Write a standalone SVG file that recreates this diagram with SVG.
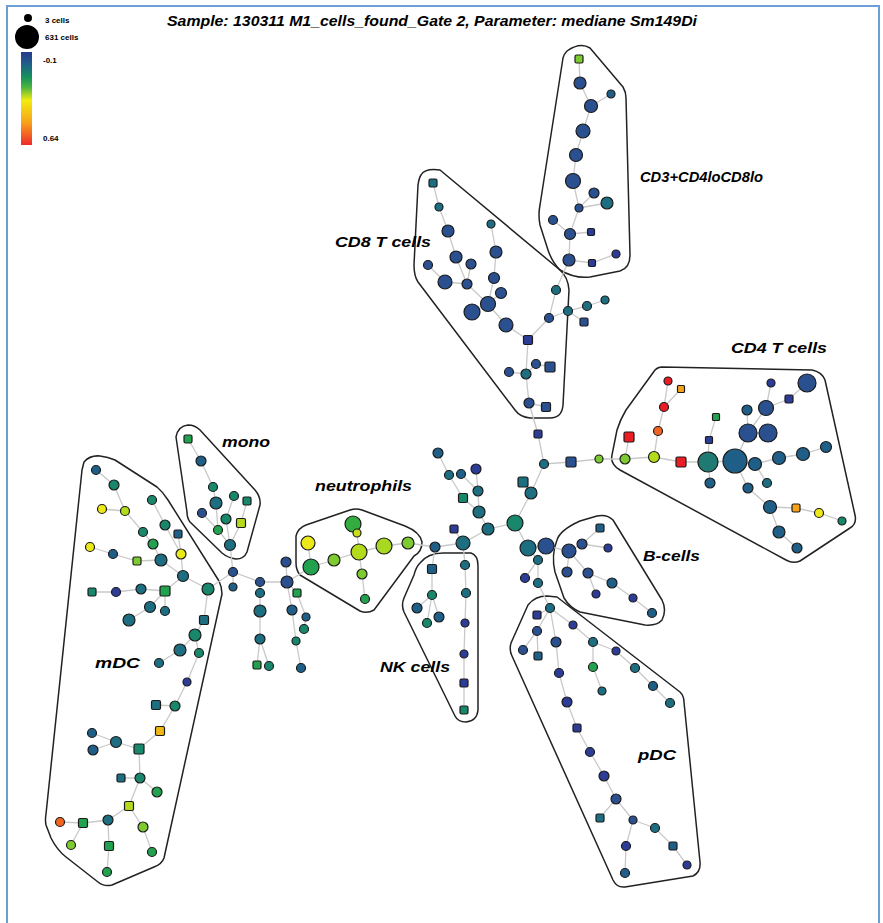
<svg xmlns="http://www.w3.org/2000/svg" width="883" height="923" viewBox="0 0 883 923">
<defs>
<linearGradient id="scale" x1="0" y1="0" x2="0" y2="1">
<stop offset="0" stop-color="#283a8c"/><stop offset="0.13" stop-color="#1f5e8a"/><stop offset="0.27" stop-color="#15915a"/><stop offset="0.38" stop-color="#4cb540"/><stop offset="0.52" stop-color="#f2ec0e"/><stop offset="0.76" stop-color="#f7a11a"/><stop offset="1" stop-color="#ee2a2a"/>
</linearGradient>
</defs>
<style>
.n{stroke:#1b1b1b;stroke-width:1.2}
.bl{fill:#2b5090}.nv{fill:#2d3c96}.tb{fill:#1f5e87}.tl{fill:#1d6e80}.tg{fill:#18876c}.gr{fill:#22a24e}
.lg{fill:#7dcb30}.yg{fill:#b3db1c}.ye{fill:#ece91a}.or{fill:#f6a31a}.ro{fill:#f06522}.rd{fill:#ea1c24}
.edge{fill:none;stroke:#c9c9c9;stroke-width:1.3}
.hull{fill:none;stroke:#222;stroke-width:1.5;stroke-linejoin:round}
.lab{font-family:"Liberation Sans",Arial,sans-serif;font-weight:bold;font-style:italic;font-size:15px;fill:#000}
.leg{font-family:"Liberation Sans",Arial,sans-serif;font-weight:bold;font-size:8px;fill:#000}
</style>
<rect width="883" height="923" fill="#fff"/>
<path d="M7,923 V6 H879 V923" fill="none" stroke="#6b9fd6" stroke-width="2"/>

<g id="legend">
<circle cx="28" cy="18" r="4" fill="#000"/>
<circle cx="27" cy="37" r="12" fill="#000"/>
<text class="leg" x="45" y="23">3 cells</text>
<text class="leg" x="45" y="40">631 cells</text>
<rect x="21" y="52" width="11" height="93" fill="url(#scale)"/>
<text class="leg" x="43" y="63">-0.1</text>
<text class="leg" x="43" y="141">0.64</text>
</g>
<text class="lab" x="167" y="26" font-size="13" textLength="530" lengthAdjust="spacingAndGlyphs">Sample: 130311 M1_cells_found_Gate 2, Parameter: mediane Sm149Di</text>

<g id="hulls">
<path class="hull" d="M567,51 Q580,42 590,48 L623,87 Q626,92 626,98 L630,255 Q630,268 620,271 L590,277 Q575,279 560,270 Q552,262 548,250 L540,225 Q538,215 540,205 L563,58 Q564,54 567,51 Z"/>
<path class="hull" d="M421,175 Q425,168 440,170 L560,270 Q568,277 569,290 L563,405 Q562,418 550,418 L530,418 Q520,417 515,410 L418,282 Q414,276 414,265 L418,185 Q419,178 421,175 Z"/>
<path class="hull" d="M662,367 L812,370 Q822,372 825,380 L855,515 Q857,524 850,528 L800,561 Q793,564 786,560 L620,470 Q610,464 612,455 L617,430 Q620,420 626,410 L655,370 Q658,367 662,367 Z"/>
<path class="hull" d="M557,540 Q560,530 580,521 L597,516 Q607,514 613,520 L662,600 Q667,610 662,620 Q657,626 645,625 L580,612 Q570,608 564,598 L555,572 Q551,555 557,540 Z"/>
<path class="hull" d="M528,605 Q535,596 547,596 L557,597 L680,692 Q684,696 684,702 L700,862 Q701,872 693,876 L625,887 Q617,888 613,880 L512,656 Q509,650 511,643 Z"/>
<path class="hull" d="M420,563 Q428,553 443,553 L471,553 Q478,555 478,566 L478,710 Q477,721 466,722 Q458,722 455,716 L404,612 Q401,605 404,598 L414,575 Q416,567 420,563 Z"/>
<path class="hull" d="M296,536 Q298,528 306,525 L350,510 Q356,508 362,510 L405,526 Q420,532 422,542 Q422,552 414,556 L374,610 Q367,614 360,611 L300,575 Q296,570 296,563 Z"/>
<path class="hull" d="M176,437 Q178,426 188,425 Q195,425 200,430 L255,490 Q261,497 260,505 L247,552 Q244,559 236,559 Q228,558 222,553 L190,522 Q187,518 187,512 Z"/>
<path class="hull" d="M84,462 Q90,455 100,456 Q108,457 115,460 L157,487 Q163,492 168,500 L219,581 Q222,587 222,594 L164,858 Q162,864 154,867 L112,885 Q104,887 98,882 L66,857 Q57,850 51,838 L46,825 Q45,820 46,814 L82,470 Z"/>
</g>

<g id="connectors">
<path class="edge" d="M579,59 L580,83 L591,106 L611,94 M591,106 L583,131 L576,155 L573,181 L579,208 L594,193 M579,208 L607,203 M579,208 L570,234 L553,220 M570,234 L591,232 M570,234 L569,260 L592,263 L616,254 M569,260 L556,290 L549,318 L528,340 M549,318 L568,311 L587,306 L605,300 M568,311 L584,322
M433,183 L439,207 L448,231 L456,257 L467,284 L488,304 L506,325 L528,340 M471,264 L467,284 M428,265 L445,282 L467,284 M491,224 L496,252 L494,278 L488,304 M501,293 L488,304 M472,312 L488,304
M528,340 L526,374 L529,403 L538,434 L544,464 L571,462 L599,459 L625,459 M526,374 L509,372 M526,374 L536,364 L550,367 M529,403 L546,407
M625,459 L654,457 L681,462 L708,462 L735,461 L755,464 L779,458 L803,454 L826,447 M625,459 L629,437 M654,457 L658,431 L664,407 L668,381 M664,407 L681,389 M708,462 L709,440 L716,417 M708,462 L710,483 M735,461 L748,433 L747,410 M748,433 L766,408 L771,383 M766,408 L789,399 L807,383 M748,433 L768,433 M735,461 L748,488 L770,507 L779,532 L797,548 M770,507 L796,508 L819,513 L842,521 M755,464 L767,483
M544,464 L531,493 L515,523 L488,529 L463,543 L435,547 L408,543 M531,493 L523,482 M463,543 L454,529 M488,529 L479,512 L478,491 L476,469 M478,491 L461,474 M479,512 L463,498 L449,475 L438,453 M515,523 L528,548 L546,546 L569,551 M528,548 L538,560 L538,583 L550,608 M538,560 L525,578
M569,551 L582,544 L600,528 M582,544 L608,548 M569,551 L567,572 M569,551 L588,573 L612,583 L633,598 L652,613 M588,573 L596,594
M435,547 L432,569 L432,595 L417,608 M432,595 L439,617 M432,595 L427,623 M463,543 L465,565 L466,593 L465,623 L464,654 L464,683 L464,710
M550,608 L537,615 M550,608 L537,631 L523,650 M537,631 L538,656 M550,608 L556,642 L559,673 L567,702 L577,728 L590,752 L604,776 L616,799 L600,818 M616,799 L633,820 L626,846 L625,873 M633,820 L655,828 L673,846 L687,865 M550,608 L573,625 L593,642 L616,651 L635,668 L653,686 L670,703 M593,642 L593,667 L602,691
M408,543 L384,546 L359,552 L334,560 L311,567 L308,543 M359,552 L357,533 L353,524 M359,552 L362,574 L365,599 M311,567 L287,582 L260,582 L233,572 M287,582 L286,562
M260,582 L260,593 L260,611 L260,639 L257,665 M260,639 L269,666 M287,582 L297,593 L306,617 L304,629 M287,582 L292,610 L296,641 L301,668 M233,572 L233,587
M233,572 L230,545 L218,530 L216,503 L213,487 L201,461 L188,439 M218,530 L202,513 M230,545 L226,519 L234,496 M230,545 L241,523 L247,501
M233,572 L208,589 L183,576 L161,560 L153,544 L143,532 L125,511 L114,485 L96,470 M125,511 L102,509 M183,576 L181,554 L165,525 L152,500 M181,554 L178,534 M161,560 L137,561 L113,554 L90,547 M183,576 L165,591 L141,589 L116,592 L92,592 M165,591 L165,611 M165,591 L150,607 L129,620 M208,589 L204,620 L195,635 L180,650 L159,663 M195,635 L199,653 L187,682 L175,706 L156,705 M175,706 L160,731 L139,749 L116,742 L92,733 M116,742 L93,750 M139,749 L140,778 L121,778 M140,778 L157,792 M140,778 L129,806 L108,820 L83,823 L60,822 M83,823 L71,845 M108,820 L109,846 L107,872 M129,806 L143,827 L152,852"/>
</g>

<g id="nodes">
<g id="a1"><rect class="n lg" x="575" y="55" width="8" height="8" rx="1.5"/></g>
<g id="a2"><circle class="n bl" cx="580" cy="83" r="6"/></g>
<g id="a3"><circle class="n tb" cx="611" cy="94" r="4"/></g>
<g id="a4"><circle class="n bl" cx="591" cy="106" r="6.5"/></g>
<g id="a5"><circle class="n bl" cx="583" cy="131" r="7"/></g>
<g id="a6"><circle class="n bl" cx="576" cy="155" r="6.5"/></g>
<g id="a7"><circle class="n bl" cx="573" cy="181" r="7.5"/></g>
<g id="a8"><circle class="n bl" cx="594" cy="193" r="5"/></g>
<g id="a9"><circle class="n tl" cx="607" cy="203" r="6"/></g>
<g id="a10"><circle class="n bl" cx="579" cy="208" r="4"/></g>
<g id="a11"><circle class="n bl" cx="553" cy="220" r="4.5"/></g>
<g id="a12"><circle class="n bl" cx="570" cy="234" r="5.5"/></g>
<g id="a13"><rect class="n nv" x="587.5" y="228.5" width="7" height="7" rx="1.5"/></g>
<g id="a14"><circle class="n bl" cx="569" cy="260" r="6"/></g>
<g id="a15"><rect class="n nv" x="588.5" y="259.5" width="7" height="7" rx="1.5"/></g>
<g id="a16"><circle class="n nv" cx="616" cy="254" r="4"/></g>
<g id="j1"><circle class="n tl" cx="556" cy="290" r="4.5"/></g>
<g id="j2"><circle class="n bl" cx="549" cy="318" r="4.5"/></g>
<g id="j3"><circle class="n tl" cx="568" cy="311" r="4.5"/></g>
<g id="j4"><circle class="n tl" cx="587" cy="306" r="4.5"/></g>
<g id="j5"><circle class="n tl" cx="605" cy="300" r="4"/></g>
<g id="j6"><rect class="n bl" x="580" y="318" width="8" height="8" rx="1.5"/></g>
<g id="j7"><rect class="n nv" x="523.5" y="335.5" width="9" height="9" rx="1.5"/></g>
<g id="b1"><rect class="n tl" x="429" y="179" width="8" height="8" rx="1.5"/></g>
<g id="b2"><circle class="n tl" cx="439" cy="207" r="4"/></g>
<g id="b3"><circle class="n bl" cx="448" cy="231" r="6"/></g>
<g id="b4"><circle class="n tl" cx="491" cy="224" r="4"/></g>
<g id="b5"><circle class="n bl" cx="496" cy="252" r="6"/></g>
<g id="b6"><circle class="n bl" cx="456" cy="257" r="6"/></g>
<g id="b7"><circle class="n bl" cx="471" cy="264" r="5"/></g>
<g id="b8"><circle class="n bl" cx="428" cy="265" r="4.5"/></g>
<g id="b9"><circle class="n bl" cx="445" cy="282" r="7"/></g>
<g id="b10"><circle class="n bl" cx="467" cy="284" r="5"/></g>
<g id="b11"><circle class="n bl" cx="494" cy="278" r="5.5"/></g>
<g id="b12"><circle class="n bl" cx="501" cy="293" r="5.5"/></g>
<g id="b13"><circle class="n bl" cx="488" cy="304" r="7.5"/></g>
<g id="b14"><circle class="n bl" cx="472" cy="312" r="8"/></g>
<g id="b15"><circle class="n bl" cx="506" cy="325" r="7"/></g>
<g id="s1"><circle class="n tl" cx="526" cy="374" r="5"/></g>
<g id="s2"><circle class="n bl" cx="509" cy="372" r="4.5"/></g>
<g id="s3"><circle class="n bl" cx="536" cy="364" r="4.5"/></g>
<g id="s4"><rect class="n bl" x="545" y="362" width="10" height="10" rx="1.5"/></g>
<g id="s5"><circle class="n bl" cx="529" cy="403" r="5"/></g>
<g id="s6"><rect class="n bl" x="541.5" y="402.5" width="9" height="9" rx="1.5"/></g>
<g id="s7"><rect class="n nv" x="534" y="430" width="8" height="8" rx="1.5"/></g>
<g id="s8"><circle class="n tl" cx="544" cy="464" r="4.5"/></g>
<g id="s9"><rect class="n bl" x="566" y="457" width="10" height="10" rx="1.5"/></g>
<g id="s10"><circle class="n lg" cx="599" cy="459" r="4"/></g>
<g id="c1"><circle class="n rd" cx="668" cy="381" r="4"/></g>
<g id="c2"><rect class="n or" x="677.5" y="385.5" width="7" height="7" rx="1"/></g>
<g id="c3"><circle class="n rd" cx="664" cy="407" r="4.5"/></g>
<g id="c4"><rect class="n rd" x="624" y="432" width="10" height="10" rx="1.5"/></g>
<g id="c5"><circle class="n ro" cx="658" cy="431" r="4.5"/></g>
<g id="c6"><circle class="n lg" cx="625" cy="459" r="5"/></g>
<g id="c7"><circle class="n yg" cx="654" cy="457" r="5.5"/></g>
<g id="c8"><rect class="n rd" x="676" y="457" width="10" height="10" rx="1.5"/></g>
<g id="c9"><circle class="n" fill="#1e7a72" cx="708" cy="462" r="10"/></g>
<g id="c10"><circle class="n tb" cx="735" cy="461" r="12"/></g>
<g id="c11"><circle class="n tb" cx="710" cy="483" r="5"/></g>
<g id="c12"><rect class="n nv" x="705.5" y="436.5" width="7" height="7" rx="1"/></g>
<g id="c13"><rect class="n gr" x="712.5" y="413.5" width="7" height="7" rx="1"/></g>
<g id="c14"><circle class="n tb" cx="755" cy="464" r="6.5"/></g>
<g id="c15"><circle class="n tb" cx="779" cy="458" r="6.5"/></g>
<g id="c16"><circle class="n tb" cx="803" cy="454" r="6.5"/></g>
<g id="c17"><circle class="n tb" cx="826" cy="447" r="5.5"/></g>
<g id="c18"><circle class="n bl" cx="748" cy="433" r="9"/></g>
<g id="c19"><circle class="n bl" cx="768" cy="433" r="9"/></g>
<g id="c20"><circle class="n tb" cx="747" cy="410" r="5"/></g>
<g id="c21"><circle class="n bl" cx="766" cy="408" r="7.5"/></g>
<g id="c22"><circle class="n nv" cx="771" cy="383" r="4"/></g>
<g id="c23"><rect class="n nv" x="785" y="395" width="8" height="8" rx="1.5"/></g>
<g id="c24"><circle class="n bl" cx="807" cy="383" r="9"/></g>
<g id="c25"><circle class="n tb" cx="748" cy="488" r="5"/></g>
<g id="c26"><circle class="n tl" cx="767" cy="483" r="4.5"/></g>
<g id="c27"><circle class="n tb" cx="770" cy="507" r="6.5"/></g>
<g id="c28"><rect class="n or" x="792" y="504" width="8" height="8" rx="1.5"/></g>
<g id="c29"><circle class="n ye" cx="819" cy="513" r="4.5"/></g>
<g id="c30"><circle class="n tg" cx="842" cy="521" r="4"/></g>
<g id="c31"><circle class="n tb" cx="779" cy="532" r="6"/></g>
<g id="c32"><circle class="n tb" cx="797" cy="548" r="5"/></g>
<g id="d1"><circle class="n bl" cx="546" cy="546" r="8"/></g>
<g id="d2"><circle class="n bl" cx="569" cy="551" r="7"/></g>
<g id="d3"><circle class="n bl" cx="582" cy="544" r="5"/></g>
<g id="d4"><rect class="n tb" x="596" y="524" width="8" height="8" rx="1.5"/></g>
<g id="d5"><circle class="n nv" cx="608" cy="548" r="4"/></g>
<g id="d6"><circle class="n bl" cx="567" cy="572" r="5"/></g>
<g id="d7"><circle class="n bl" cx="588" cy="573" r="5"/></g>
<g id="d8"><circle class="n tb" cx="612" cy="583" r="5"/></g>
<g id="d9"><circle class="n nv" cx="596" cy="594" r="4"/></g>
<g id="d10"><circle class="n nv" cx="633" cy="598" r="4"/></g>
<g id="d11"><circle class="n tb" cx="652" cy="613" r="4.5"/></g>
<g id="e1"><circle class="n tl" cx="531" cy="493" r="6"/></g>
<g id="e2"><rect class="n tl" x="518" y="477" width="10" height="10" rx="2"/></g>
<g id="e3"><circle class="n tg" cx="515" cy="523" r="8"/></g>
<g id="e4"><circle class="n tl" cx="488" cy="529" r="6"/></g>
<g id="e5"><circle class="n tl" cx="463" cy="543" r="7"/></g>
<g id="e6"><rect class="n nv" x="450" y="525" width="8" height="8" rx="1.5"/></g>
<g id="e7"><circle class="n tb" cx="435" cy="547" r="5"/></g>
<g id="e8"><circle class="n tl" cx="528" cy="548" r="8"/></g>
<g id="e9"><circle class="n tl" cx="538" cy="560" r="4.5"/></g>
<g id="e10"><circle class="n nv" cx="525" cy="578" r="4.5"/></g>
<g id="e11"><circle class="n tl" cx="538" cy="583" r="4.5"/></g>
<g id="e12"><circle class="n tl" cx="479" cy="512" r="6"/></g>
<g id="e13"><circle class="n tl" cx="478" cy="491" r="5"/></g>
<g id="e14"><rect class="n tg" x="458.5" y="493.5" width="9" height="9" rx="1.5"/></g>
<g id="e15"><circle class="n nv" cx="476" cy="469" r="5"/></g>
<g id="e16"><circle class="n tb" cx="461" cy="474" r="4.5"/></g>
<g id="e17"><circle class="n tl" cx="449" cy="475" r="4.5"/></g>
<g id="e18"><circle class="n tb" cx="438" cy="453" r="5"/></g>
<g id="k1"><rect class="n tb" x="427.5" y="564.5" width="9" height="9" rx="1.5"/></g>
<g id="k2"><circle class="n tg" cx="432" cy="595" r="4.5"/></g>
<g id="k3"><circle class="n tb" cx="417" cy="608" r="5"/></g>
<g id="k4"><circle class="n tb" cx="439" cy="617" r="5"/></g>
<g id="k5"><circle class="n tg" cx="427" cy="623" r="4.5"/></g>
<g id="k6"><circle class="n tl" cx="465" cy="565" r="4.5"/></g>
<g id="k7"><circle class="n tl" cx="466" cy="593" r="4.5"/></g>
<g id="k8"><circle class="n nv" cx="465" cy="623" r="4"/></g>
<g id="k9"><circle class="n nv" cx="464" cy="654" r="4"/></g>
<g id="k10"><rect class="n nv" x="460" y="679" width="8" height="8" rx="1.5"/></g>
<g id="k11"><rect class="n tg" x="460" y="706" width="8" height="8" rx="1.5"/></g>
<g id="p1"><circle class="n tl" cx="550" cy="608" r="4.5"/></g>
<g id="p2"><rect class="n nv" x="533" y="611" width="8" height="8" rx="1.5"/></g>
<g id="p3"><circle class="n bl" cx="537" cy="631" r="4.5"/></g>
<g id="p4"><circle class="n bl" cx="523" cy="650" r="4.5"/></g>
<g id="p5"><rect class="n tb" x="534" y="652" width="8" height="8" rx="1.5"/></g>
<g id="p6"><circle class="n bl" cx="556" cy="642" r="5"/></g>
<g id="p7"><circle class="n nv" cx="559" cy="673" r="4.5"/></g>
<g id="p8"><circle class="n nv" cx="567" cy="702" r="5"/></g>
<g id="p9"><rect class="n nv" x="573" y="724" width="8" height="8" rx="1.5"/></g>
<g id="p10"><circle class="n nv" cx="590" cy="752" r="4.5"/></g>
<g id="p11"><circle class="n nv" cx="604" cy="776" r="5"/></g>
<g id="p12"><circle class="n bl" cx="616" cy="799" r="5"/></g>
<g id="p13"><rect class="n tl" x="596" y="814" width="8" height="8" rx="1.5"/></g>
<g id="p14"><circle class="n bl" cx="633" cy="820" r="4"/></g>
<g id="p15"><circle class="n tl" cx="655" cy="828" r="4.5"/></g>
<g id="p16"><rect class="n tb" x="669" y="842" width="8" height="8" rx="1.5"/></g>
<g id="p17"><circle class="n nv" cx="687" cy="865" r="4"/></g>
<g id="p18"><circle class="n nv" cx="626" cy="846" r="4.5"/></g>
<g id="p19"><circle class="n tb" cx="625" cy="873" r="4.5"/></g>
<g id="p20"><circle class="n nv" cx="573" cy="625" r="4"/></g>
<g id="p21"><circle class="n tl" cx="593" cy="642" r="4.5"/></g>
<g id="p22"><circle class="n nv" cx="616" cy="651" r="4"/></g>
<g id="p23"><circle class="n tl" cx="635" cy="668" r="4.5"/></g>
<g id="p24"><circle class="n tb" cx="653" cy="686" r="4.5"/></g>
<g id="p25"><circle class="n tl" cx="670" cy="703" r="4.5"/></g>
<g id="p26"><circle class="n gr" cx="593" cy="667" r="4.5"/></g>
<g id="p27"><circle class="n tl" cx="602" cy="691" r="4"/></g>
<g id="n1"><circle class="n" fill="#34ad40" cx="353" cy="524" r="8"/></g>
<g id="n2"><circle class="n" fill="#c8de1a" cx="357" cy="533" r="4"/></g>
<g id="n3"><circle class="n ye" cx="308" cy="543" r="7"/></g>
<g id="n4"><circle class="n gr" cx="311" cy="567" r="8"/></g>
<g id="n5"><circle class="n lg" cx="334" cy="560" r="6"/></g>
<g id="n6"><circle class="n yg" cx="359" cy="552" r="8"/></g>
<g id="n7"><circle class="n" fill="#a8d820" cx="384" cy="546" r="8"/></g>
<g id="n8"><circle class="n lg" cx="408" cy="543" r="6"/></g>
<g id="n9"><circle class="n lg" cx="362" cy="574" r="5"/></g>
<g id="n10"><circle class="n gr" cx="365" cy="599" r="4.5"/></g>
<g id="l1"><circle class="n bl" cx="286" cy="562" r="5"/></g>
<g id="l2"><circle class="n bl" cx="287" cy="582" r="6"/></g>
<g id="l3"><circle class="n bl" cx="260" cy="582" r="4.5"/></g>
<g id="l4"><circle class="n bl" cx="233" cy="572" r="4.5"/></g>
<g id="l5"><circle class="n tb" cx="233" cy="587" r="4"/></g>
<g id="l6"><circle class="n tl" cx="260" cy="593" r="4.5"/></g>
<g id="l7"><circle class="n tl" cx="260" cy="611" r="6"/></g>
<g id="l8"><circle class="n tl" cx="260" cy="639" r="5"/></g>
<g id="l9"><rect class="n gr" x="253" y="661" width="8" height="8" rx="1.5"/></g>
<g id="l10"><circle class="n tg" cx="269" cy="666" r="4.5"/></g>
<g id="l11"><rect class="n gr" x="293" y="589" width="8" height="8" rx="1.5"/></g>
<g id="l12"><circle class="n tb" cx="292" cy="610" r="5"/></g>
<g id="l13"><circle class="n tb" cx="306" cy="617" r="4"/></g>
<g id="l14"><circle class="n tg" cx="304" cy="629" r="4.5"/></g>
<g id="l15"><circle class="n tg" cx="296" cy="641" r="4"/></g>
<g id="l16"><circle class="n tb" cx="301" cy="668" r="4.5"/></g>
<g id="o1"><rect class="n gr" x="184" y="435" width="8" height="8" rx="1.5"/></g>
<g id="o2"><circle class="n tb" cx="201" cy="461" r="5"/></g>
<g id="o3"><circle class="n tg" cx="213" cy="487" r="4.5"/></g>
<g id="o4"><circle class="n tl" cx="216" cy="503" r="6"/></g>
<g id="o5"><circle class="n bl" cx="202" cy="513" r="4.5"/></g>
<g id="o6"><circle class="n tg" cx="234" cy="496" r="4.5"/></g>
<g id="o7"><rect class="n tg" x="243" y="497" width="8" height="8" rx="1.5"/></g>
<g id="o8"><circle class="n tg" cx="226" cy="519" r="5"/></g>
<g id="o9"><circle class="n gr" cx="218" cy="530" r="4.5"/></g>
<g id="o10"><rect class="n yg" x="236.5" y="518.5" width="9" height="9" rx="1.5"/></g>
<g id="o11"><circle class="n tl" cx="230" cy="545" r="5.5"/></g>
<g id="q1"><circle class="n tb" cx="96" cy="470" r="4.5"/></g>
<g id="q2"><circle class="n tg" cx="114" cy="485" r="5"/></g>
<g id="q3"><circle class="n ye" cx="102" cy="509" r="4.5"/></g>
<g id="q4"><circle class="n yg" cx="125" cy="511" r="4.5"/></g>
<g id="q5"><circle class="n tg" cx="152" cy="500" r="4.5"/></g>
<g id="q6"><circle class="n tg" cx="143" cy="532" r="4.5"/></g>
<g id="q7"><circle class="n tg" cx="165" cy="525" r="5"/></g>
<g id="q8"><circle class="n gr" cx="153" cy="544" r="5"/></g>
<g id="q9"><rect class="n tb" x="174" y="530" width="8" height="8" rx="1.5"/></g>
<g id="q10"><circle class="n ye" cx="90" cy="547" r="4.5"/></g>
<g id="q11"><circle class="n tb" cx="113" cy="554" r="4.5"/></g>
<g id="q12"><rect class="n lg" x="133" y="557" width="8" height="8" rx="1.5"/></g>
<g id="q13"><circle class="n tl" cx="161" cy="560" r="6"/></g>
<g id="q14"><circle class="n ye" cx="181" cy="554" r="5"/></g>
<g id="q15"><circle class="n tl" cx="183" cy="576" r="5.5"/></g>
<g id="q16"><circle class="n tg" cx="208" cy="589" r="6"/></g>
<g id="q17"><rect class="n tg" x="88" y="588" width="8" height="8" rx="1.5"/></g>
<g id="q18"><circle class="n nv" cx="116" cy="592" r="4.5"/></g>
<g id="q19"><circle class="n tl" cx="141" cy="589" r="5"/></g>
<g id="q20"><rect class="n gr" x="160" y="586" width="10" height="10" rx="1.5"/></g>
<g id="q21"><circle class="n tl" cx="150" cy="607" r="5.5"/></g>
<g id="q22"><circle class="n tl" cx="165" cy="611" r="4.5"/></g>
<g id="q23"><circle class="n tl" cx="129" cy="620" r="6"/></g>
<g id="q24"><rect class="n tl" x="199.5" y="615.5" width="9" height="9" rx="1.5"/></g>
<g id="q25"><circle class="n tg" cx="195" cy="635" r="6"/></g>
<g id="q26"><circle class="n tl" cx="180" cy="650" r="6"/></g>
<g id="q27"><circle class="n tg" cx="199" cy="653" r="4.5"/></g>
<g id="q28"><circle class="n tl" cx="159" cy="663" r="4.5"/></g>
<g id="q29"><circle class="n nv" cx="187" cy="682" r="4"/></g>
<g id="q30"><rect class="n tl" x="151.5" y="700.5" width="9" height="9" rx="1.5"/></g>
<g id="q31"><circle class="n tg" cx="175" cy="706" r="5"/></g>
<g id="q32"><rect class="n" fill="#f0b812" x="155.5" y="726.5" width="9" height="9" rx="1.5"/></g>
<g id="q33"><circle class="n tb" cx="92" cy="733" r="4.5"/></g>
<g id="q34"><circle class="n tl" cx="116" cy="742" r="5.5"/></g>
<g id="q35"><circle class="n tb" cx="93" cy="750" r="5"/></g>
<g id="q36"><rect class="n tg" x="134" y="744" width="10" height="10" rx="1.5"/></g>
<g id="q37"><rect class="n tl" x="117" y="774" width="8" height="8" rx="1.5"/></g>
<g id="q38"><circle class="n tg" cx="140" cy="778" r="5"/></g>
<g id="q39"><circle class="n gr" cx="157" cy="792" r="5"/></g>
<g id="q40"><rect class="n yg" x="124.5" y="801.5" width="9" height="9" rx="1.5"/></g>
<g id="q41"><circle class="n tl" cx="108" cy="820" r="5"/></g>
<g id="q42"><rect class="n gr" x="78.5" y="818.5" width="9" height="9" rx="1.5"/></g>
<g id="q43"><circle class="n ro" cx="60" cy="822" r="4.5"/></g>
<g id="q44"><circle class="n lg" cx="71" cy="845" r="4.5"/></g>
<g id="q45"><rect class="n gr" x="104.5" y="841.5" width="9" height="9" rx="1.5"/></g>
<g id="q46"><circle class="n lg" cx="143" cy="827" r="5"/></g>
<g id="q47"><circle class="n gr" cx="152" cy="852" r="4.5"/></g>
<g id="q48"><circle class="n gr" cx="107" cy="872" r="4.5"/></g>
</g>

<g id="labels">
<text class="lab" x="640" y="182" textLength="123" lengthAdjust="spacingAndGlyphs">CD3+CD4loCD8lo</text>
<text class="lab" x="335" y="247" textLength="96" lengthAdjust="spacingAndGlyphs">CD8 T cells</text>
<text class="lab" x="731" y="353" textLength="96" lengthAdjust="spacingAndGlyphs">CD4 T cells</text>
<text class="lab" x="222" y="447" textLength="48" lengthAdjust="spacingAndGlyphs">mono</text>
<text class="lab" x="315" y="491" textLength="97" lengthAdjust="spacingAndGlyphs">neutrophils</text>
<text class="lab" x="643" y="561" textLength="57" lengthAdjust="spacingAndGlyphs">B-cells</text>
<text class="lab" x="95" y="668" textLength="45" lengthAdjust="spacingAndGlyphs">mDC</text>
<text class="lab" x="380" y="672" textLength="70" lengthAdjust="spacingAndGlyphs">NK cells</text>
<text class="lab" x="638" y="760" textLength="38" lengthAdjust="spacingAndGlyphs">pDC</text>
</g>
</svg>
